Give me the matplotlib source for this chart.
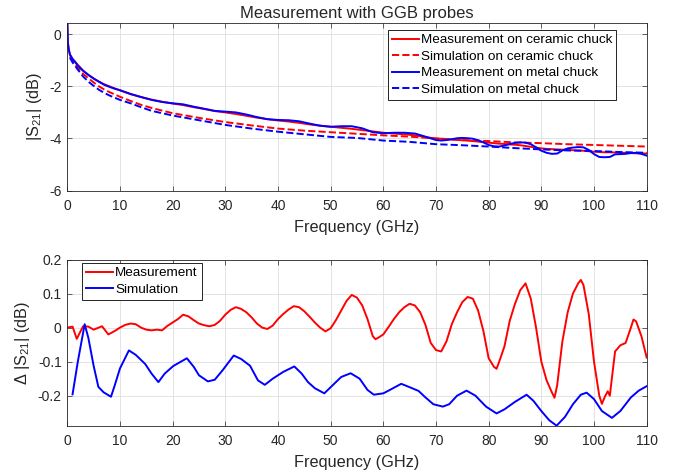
import matplotlib
matplotlib.use('Agg')
import matplotlib.pyplot as plt

plt.rcParams['font.family'] = ['Liberation Sans', 'DejaVu Sans']
plt.rcParams['mathtext.fontset'] = 'custom'
plt.rcParams['mathtext.rm'] = 'Liberation Sans'
plt.rcParams['mathtext.default'] = 'regular'
plt.rcParams['axes.unicode_minus'] = False

txt = '#262626'

# top panel: |S21| in dB
f_meas = [0, 0.1, 0.25, 0.5, 1, 1.5, 2, 3, 4, 5, 6, 7, 8, 9, 10,
          12, 14, 16, 18, 20, 22, 24, 26, 28, 30, 32, 34, 36, 38, 40,
          42, 44, 46, 48, 50, 52, 54, 56, 58, 60, 62, 64, 66, 68, 70,
          71, 72, 73, 74, 75, 76, 77, 78, 79, 80, 81, 82, 83, 84, 85,
          86, 87, 88, 89, 90, 91, 92, 93, 94, 95, 96, 97, 98, 99, 100,
          101, 102, 103, 104, 105, 106, 107, 108, 109, 110]
meas_ceramic = [0.6, -0.3, -0.55, -0.78, -0.95, -1.06, -1.18, -1.4, -1.56, -1.7, -1.82, -1.92, -2.0, -2.08, -2.15,
                -2.3, -2.41, -2.51, -2.59, -2.66, -2.72, -2.8, -2.87, -2.95, -3.0, -3.06, -3.13, -3.2, -3.26, -3.31,
                -3.35, -3.4, -3.46, -3.51, -3.55, -3.59, -3.63, -3.68, -3.73, -3.78, -3.81, -3.84, -3.88, -3.95, -4.0,
                -4.01, -4.02, -4.04, -4.05, -4.07, -4.08, -4.1, -4.12, -4.14, -4.16, -4.18, -4.2, -4.21, -4.23, -4.24,
                -4.26, -4.29, -4.32, -4.35, -4.38, -4.4, -4.41, -4.42, -4.43, -4.44, -4.45, -4.46, -4.47, -4.49, -4.51,
                -4.52, -4.53, -4.53, -4.54, -4.55, -4.55, -4.56, -4.57, -4.57, -4.58]
meas_metal = [0.6, -0.3, -0.55, -0.78, -0.95, -1.07, -1.2, -1.4, -1.56, -1.7, -1.82, -1.94, -2.02, -2.09, -2.15,
              -2.29, -2.41, -2.52, -2.6, -2.65, -2.69, -2.78, -2.86, -2.94, -2.97, -3.0, -3.08, -3.18, -3.26, -3.29,
              -3.3, -3.34, -3.43, -3.51, -3.55, -3.53, -3.53, -3.61, -3.76, -3.8, -3.78, -3.78, -3.81, -3.93, -4.06,
              -4.08, -4.06, -4.03, -3.99, -3.98, -3.99, -4.01, -4.07, -4.15, -4.25, -4.3, -4.31, -4.27, -4.21, -4.17,
              -4.15, -4.16, -4.22, -4.34, -4.47, -4.55, -4.59, -4.58, -4.46, -4.38, -4.35, -4.33, -4.34, -4.44, -4.6,
              -4.71, -4.72, -4.71, -4.61, -4.6, -4.59, -4.56, -4.55, -4.59, -4.66]

f_sim = [0.5, 1, 1.5, 2, 3, 4, 5, 6, 7, 8, 10, 12, 14, 16, 18, 20, 25, 30, 35, 40,
         45, 50, 55, 60, 65, 70, 75, 80, 85, 90, 95, 100, 105, 110]
sim_ceramic = [-0.85, -1.0, -1.13, -1.28, -1.52, -1.69, -1.85, -2.0, -2.12, -2.22, -2.4, -2.56, -2.71, -2.83, -2.93,
               -3.03, -3.21, -3.37, -3.5, -3.62, -3.7, -3.76, -3.82, -3.88, -3.93, -4.0, -4.06, -4.1, -4.15, -4.18,
               -4.22, -4.25, -4.28, -4.31]
sim_metal = [-0.9, -1.08, -1.22, -1.36, -1.62, -1.82, -1.98, -2.13, -2.25, -2.35, -2.52, -2.65, -2.8, -2.94, -3.03,
             -3.12, -3.3, -3.48, -3.62, -3.74, -3.84, -3.94, -3.98, -4.08, -4.13, -4.22, -4.26, -4.31, -4.37, -4.42,
             -4.46, -4.48, -4.52, -4.55]

# bottom panel: difference metal - ceramic
f_dmeas = [0, 1, 1.8, 3, 4, 5, 6.6, 7.8, 9, 10, 11, 12, 13, 14, 15, 16, 17, 18, 19, 20,
           21, 22, 23, 24, 25, 26, 27, 28, 29, 30, 31, 32, 33, 34, 35, 36, 37, 38, 39, 40,
           41, 42, 43, 44, 45, 46, 47, 48, 49, 50, 51, 52, 53, 54, 55, 56, 57, 58, 58.5, 59,
           60, 61, 62, 63, 64, 65, 66, 67, 68, 69, 70, 71, 72, 73, 74, 75, 76, 77, 78, 79,
           80, 81, 81.5, 82, 83, 84, 85, 86, 87, 88, 89, 90, 91, 92, 92.5, 93, 94, 95, 96, 97,
           97.5, 98, 99, 100, 101, 101.5, 102, 102.6, 103, 104, 105, 106, 107, 107.5, 108, 109, 110]
dmeas = [0.0, 0.003, -0.033, 0.004, 0.003, -0.006, 0.004, -0.02, -0.01, 0.0, 0.008, 0.012, 0.01, 0.0, -0.006,
         -0.008, -0.006, -0.008, 0.005, 0.015,
         0.025, 0.038, 0.033, 0.022, 0.012, 0.007, 0.004, 0.008, 0.02, 0.038, 0.052, 0.06, 0.055, 0.045, 0.03,
         0.012, 0.0, -0.004, 0.006, 0.025,
         0.04, 0.053, 0.063, 0.06, 0.048, 0.032, 0.015, 0.0, -0.011, -0.002, 0.022, 0.05, 0.078, 0.096, 0.088,
         0.065, 0.025, -0.025, -0.034, -0.03,
         -0.02, 0.002, 0.025, 0.045, 0.06, 0.07, 0.065, 0.045, 0.008, -0.045, -0.066, -0.07, -0.04, 0.01, 0.045,
         0.075, 0.09, 0.085, 0.05, -0.01,
         -0.09, -0.115, -0.121, -0.1, -0.055, 0.02, 0.07, 0.11, 0.13, 0.085, 0.0, -0.1, -0.155, -0.19, -0.206,
         -0.17, -0.04, 0.045, 0.1, 0.13,
         0.14, 0.125, 0.04, -0.1, -0.2, -0.224, -0.205, -0.187, -0.2, -0.07, -0.052, -0.045, 0.0, 0.024, 0.018,
         -0.025, -0.088]

f_dsim = [1, 2, 3.3, 4, 5, 5.9, 6.9, 8.3, 9, 10, 11.7, 13, 14.8, 16, 17.3, 18.5, 20.1, 21, 22.7, 24,
          25, 26.7, 28, 29.5, 31.6, 33, 34.7, 36.2, 37.5, 39, 41, 43.1, 44.5, 45.7, 47, 48.8, 50, 52, 53.8, 55.5,
          57, 58.2, 60, 61, 63.4, 65, 66.7, 68, 69.5, 71.3, 72.5, 74, 75.8, 77.5, 79.5, 81.5, 83, 85, 87.2, 88.5,
          90, 91.5, 92.9, 94.5, 96, 97.5, 98.6, 100, 101.5, 103.4, 105, 107, 108.5, 110]
dsim = [-0.196, -0.1, 0.01, -0.03, -0.112, -0.174, -0.19, -0.203, -0.17, -0.12, -0.067, -0.08, -0.107, -0.135,
        -0.16, -0.135, -0.113, -0.105, -0.09, -0.115,
        -0.14, -0.158, -0.153, -0.125, -0.082, -0.092, -0.112, -0.155, -0.168, -0.15, -0.13, -0.114, -0.135,
        -0.16, -0.178, -0.193, -0.175, -0.145, -0.134, -0.15,
        -0.183, -0.197, -0.193, -0.185, -0.165, -0.175, -0.186, -0.205, -0.225, -0.232, -0.225, -0.2, -0.185,
        -0.2, -0.232, -0.252, -0.24, -0.218, -0.197, -0.215,
        -0.245, -0.272, -0.288, -0.262, -0.225, -0.197, -0.191, -0.21, -0.245, -0.265, -0.245, -0.205, -0.185,
        -0.172]

xticks = list(range(0, 111, 10))


def style_axes(ax):
    ax.set_xlim(0, 110)
    ax.set_xticks(xticks)
    ax.grid(True, color='#dedede', linewidth=0.6)
    ax.set_axisbelow(True)
    ax.tick_params(direction='in', top=True, right=True, length=3.5, width=0.5,
                   colors=txt, labelsize=10)
    ax.tick_params(axis='x', pad=6)
    ax.tick_params(axis='y', pad=4)
    for s in ax.spines.values():
        s.set_linewidth(0.6)
        s.set_color(txt)
    ax.set_xlabel('Frequency (GHz)', fontsize=11.7, color=txt, labelpad=5)


fig = plt.figure(figsize=(6.81, 4.76), dpi=100)
ax1 = fig.add_axes([0.0988, 0.5996, 0.8508, 0.3515])
ax2 = fig.add_axes([0.0988, 0.1057, 0.8508, 0.3491])

lw = 1.4
ax1.plot(f_meas, meas_ceramic, color='red', lw=lw, label='Measurement on ceramic chuck')
ax1.plot(f_sim, sim_ceramic, color='red', lw=lw, ls='--', label='Simulation on ceramic chuck')
ax1.plot(f_meas, meas_metal, color='blue', lw=lw, label='Measurement on metal chuck')
ax1.plot(f_sim, sim_metal, color='blue', lw=lw, ls='--', label='Simulation on metal chuck')
style_axes(ax1)
ax1.set_ylim(-6, 0.42)
ax1.set_yticks([-6, -4, -2, 0])
ax1.set_ylabel('|S$_{21}$| (dB)', fontsize=11.7, color=txt)
ax1.set_title('Measurement with GGB probes', fontsize=12, color=txt, pad=4)
leg1 = ax1.legend(loc='upper right', bbox_to_anchor=(0.947, 0.96), fontsize=9.7,
                  handlelength=2.0, handletextpad=0.15, labelspacing=0.3, borderpad=0.3,
                  borderaxespad=0, fancybox=False, framealpha=1, edgecolor='black')
leg1.get_frame().set_linewidth(0.6)

ax2.plot(f_dmeas, dmeas, color='red', lw=lw, label='Measurement')
ax2.plot(f_dsim, dsim, color='blue', lw=lw, label='Simulation')
style_axes(ax2)
ax2.set_ylim(-0.288, 0.2)
ax2.set_yticks([-0.2, -0.1, 0, 0.1, 0.2])
ax2.set_yticklabels(['-0.2', '-0.1', '0', '0.1', '0.2'])
ax2.set_ylabel('$\\Delta$ |S$_{21}$| (dB)', fontsize=11.7, color=txt)
leg2 = ax2.legend(loc='upper left', bbox_to_anchor=(0.026, 0.979), fontsize=9.7,
                  handlelength=2.0, handletextpad=0.15, labelspacing=0.3, borderpad=0.3,
                  borderaxespad=0, fancybox=False, framealpha=1, edgecolor='black')
leg2.get_frame().set_linewidth(0.6)

fig.savefig('out.png', dpi=100)
